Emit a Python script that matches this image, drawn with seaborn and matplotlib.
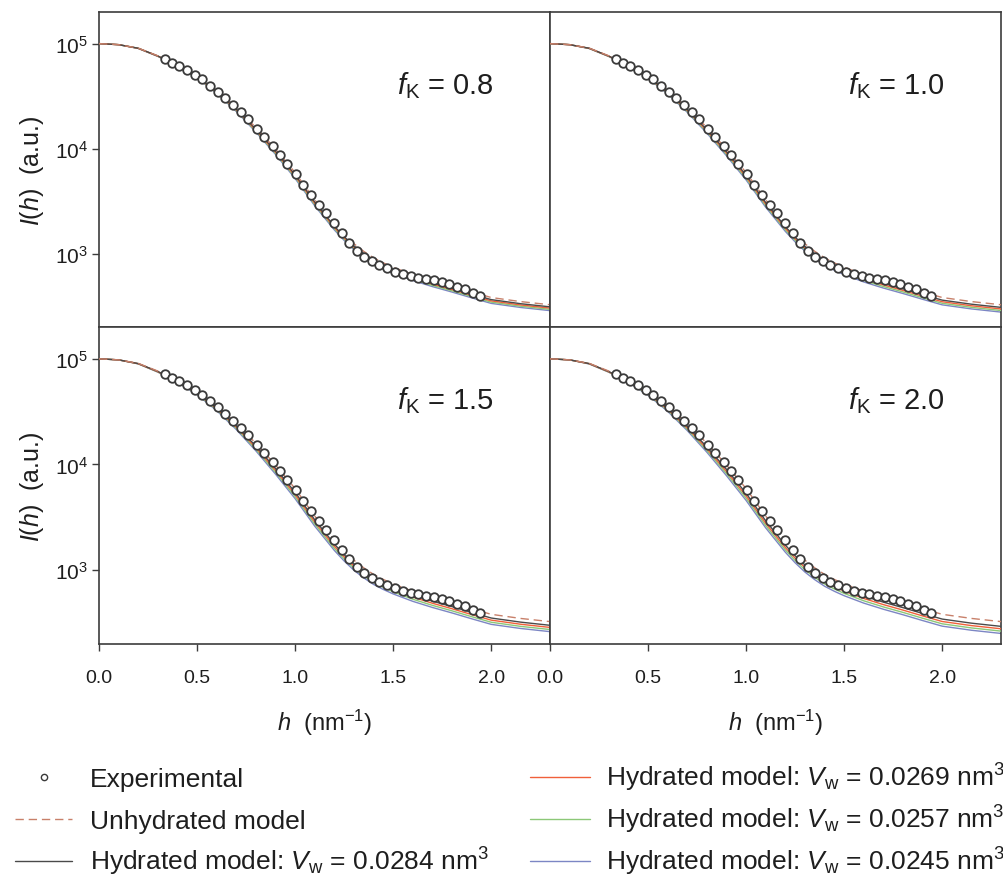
import matplotlib
matplotlib.use("Agg")
import matplotlib.pyplot as plt
from matplotlib.lines import Line2D
from matplotlib.ticker import NullLocator, FixedLocator
import seaborn as sns
import numpy as np
import pandas as pd

# experimental points (same in every panel), log10 of intensity
H_EXP = [0.335, 0.372, 0.408, 0.449, 0.488, 0.527, 0.568, 0.607, 0.644, 0.684,
         0.723, 0.762, 0.804, 0.842, 0.886, 0.923, 0.961, 1.005, 1.042, 1.080,
         1.122, 1.158, 1.196, 1.238, 1.277, 1.318, 1.352, 1.391, 1.429, 1.471,
         1.510, 1.549, 1.590, 1.629, 1.668, 1.709, 1.748, 1.787, 1.825, 1.864,
         1.905, 1.944]
LOG_EXP = [4.858, 4.820, 4.788, 4.750, 4.702, 4.659, 4.598, 4.541, 4.479, 4.415,
           4.346, 4.282, 4.188, 4.109, 4.024, 3.935, 3.849, 3.761, 3.650, 3.555,
           3.461, 3.382, 3.287, 3.192, 3.104, 3.028, 2.972, 2.925, 2.890, 2.860,
           2.829, 2.804, 2.782, 2.772, 2.756, 2.747, 2.728, 2.709, 2.683, 2.661,
           2.624, 2.592]

# model curves, log10 of intensity
H_MODEL = [0.0, 0.1, 0.2, 0.3, 0.4, 0.5, 0.6, 0.7, 0.8, 0.9, 1.0, 1.1, 1.2,
           1.25, 1.3, 1.35, 1.4, 1.45, 1.5, 1.6, 1.7, 1.8, 1.9, 2.0, 2.15, 2.3]
LOG_UNHYD = [5.000, 4.990, 4.957, 4.884, 4.797, 4.690, 4.553, 4.388, 4.200, 3.995,
             3.772, 3.512, 3.282, 3.182, 3.094, 3.022, 2.960, 2.912, 2.870, 2.800,
             2.742, 2.690, 2.635, 2.582, 2.543, 2.513]

FK_LABELS = ["0.8", "1.0", "1.5", "2.0"]
VW_LABELS = ["0.0284", "0.0269", "0.0257", "0.0245"]

LOG_HYD_08 = [
    [5.000, 4.990, 4.956, 4.882, 4.793, 4.684, 4.544, 4.376, 4.185, 3.977, 3.752, 3.492, 3.262,
     3.162, 3.074, 3.002, 2.940, 2.892, 2.850, 2.780, 2.722, 2.670, 2.615, 2.562, 2.523, 2.493],
    [5.000, 4.990, 4.955, 4.881, 4.791, 4.680, 4.539, 4.369, 4.176, 3.966, 3.740, 3.480, 3.250,
     3.150, 3.062, 2.990, 2.928, 2.880, 2.838, 2.768, 2.710, 2.658, 2.603, 2.550, 2.511, 2.481],
    [5.000, 4.990, 4.955, 4.880, 4.788, 4.677, 4.533, 4.362, 4.167, 3.955, 3.728, 3.468, 3.238,
     3.138, 3.050, 2.978, 2.916, 2.868, 2.826, 2.756, 2.698, 2.646, 2.591, 2.538, 2.499, 2.469],
    [5.000, 4.990, 4.954, 4.878, 4.786, 4.673, 4.528, 4.354, 4.158, 3.945, 3.716, 3.456, 3.226,
     3.126, 3.038, 2.966, 2.904, 2.856, 2.814, 2.744, 2.686, 2.634, 2.579, 2.526, 2.487, 2.457],
]
LOG_HYD_10 = [
    [5.000, 4.990, 4.956, 4.881, 4.792, 4.682, 4.542, 4.373, 4.181, 3.972, 3.747, 3.487, 3.257,
     3.157, 3.069, 2.997, 2.935, 2.887, 2.845, 2.775, 2.717, 2.665, 2.610, 2.557, 2.518, 2.488],
    [5.000, 4.990, 4.955, 4.880, 4.789, 4.678, 4.535, 4.364, 4.170, 3.959, 3.732, 3.472, 3.242,
     3.142, 3.054, 2.982, 2.920, 2.872, 2.830, 2.760, 2.702, 2.650, 2.595, 2.542, 2.503, 2.473],
    [5.000, 4.990, 4.954, 4.878, 4.786, 4.673, 4.528, 4.355, 4.159, 3.945, 3.717, 3.457, 3.227,
     3.127, 3.039, 2.967, 2.905, 2.857, 2.815, 2.745, 2.687, 2.635, 2.580, 2.527, 2.488, 2.458],
    [5.000, 4.990, 4.953, 4.877, 4.783, 4.669, 4.521, 4.346, 4.147, 3.932, 3.702, 3.442, 3.212,
     3.112, 3.024, 2.952, 2.890, 2.842, 2.800, 2.730, 2.672, 2.620, 2.565, 2.512, 2.473, 2.443],
]
LOG_HYD_15 = [
    [5.000, 4.990, 4.955, 4.880, 4.790, 4.679, 4.537, 4.367, 4.174, 3.963, 3.737, 3.477, 3.247,
     3.147, 3.059, 2.987, 2.925, 2.877, 2.835, 2.765, 2.707, 2.655, 2.600, 2.547, 2.508, 2.478],
    [5.000, 4.990, 4.954, 4.878, 4.786, 4.673, 4.528, 4.355, 4.159, 3.945, 3.717, 3.457, 3.227,
     3.127, 3.039, 2.967, 2.905, 2.857, 2.815, 2.745, 2.687, 2.635, 2.580, 2.527, 2.488, 2.458],
    [5.000, 4.990, 4.953, 4.876, 4.782, 4.667, 4.519, 4.343, 4.144, 3.927, 3.697, 3.437, 3.207,
     3.107, 3.019, 2.947, 2.885, 2.837, 2.795, 2.725, 2.667, 2.615, 2.560, 2.507, 2.468, 2.438],
    [5.000, 4.990, 4.952, 4.874, 4.778, 4.661, 4.510, 4.331, 4.129, 3.909, 3.677, 3.417, 3.187,
     3.087, 2.999, 2.927, 2.865, 2.817, 2.775, 2.705, 2.647, 2.595, 2.540, 2.487, 2.448, 2.418],
]
LOG_HYD_20 = [
    [5.000, 4.990, 4.955, 4.879, 4.788, 4.676, 4.533, 4.361, 4.166, 3.954, 3.727, 3.467, 3.237,
     3.137, 3.049, 2.977, 2.915, 2.867, 2.825, 2.755, 2.697, 2.645, 2.590, 2.537, 2.498, 2.468],
    [5.000, 4.990, 4.954, 4.877, 4.783, 4.670, 4.522, 4.347, 4.149, 3.934, 3.704, 3.444, 3.214,
     3.114, 3.026, 2.954, 2.892, 2.844, 2.802, 2.732, 2.674, 2.622, 2.567, 2.514, 2.475, 2.445],
    [5.000, 4.990, 4.953, 4.875, 4.779, 4.663, 4.513, 4.334, 4.133, 3.914, 3.682, 3.422, 3.192,
     3.092, 3.004, 2.932, 2.870, 2.822, 2.780, 2.710, 2.652, 2.600, 2.545, 2.492, 2.453, 2.423],
    [5.000, 4.990, 4.951, 4.873, 4.775, 4.656, 4.503, 4.321, 4.116, 3.894, 3.660, 3.400, 3.170,
     3.070, 2.982, 2.910, 2.848, 2.800, 2.758, 2.688, 2.630, 2.578, 2.523, 2.470, 2.431, 2.401],
]
LOG_HYD = [LOG_HYD_08, LOG_HYD_10, LOG_HYD_15, LOG_HYD_20]

C_UNHYD = "#c8806a"
C_HYD = ["#4a4a4a", "#f0603a", "#8cc878", "#7c86c4"]
C_SPINE = "#3c3c3c"
C_TEXT = "#1e1e1e"

sns.set_style("ticks")
plt.rcParams["font.family"] = ["Liberation Sans", "DejaVu Sans"]
plt.rcParams["mathtext.fontset"] = "custom"
plt.rcParams["mathtext.rm"] = "Liberation Sans"
plt.rcParams["mathtext.it"] = "Liberation Sans:italic"
plt.rcParams["mathtext.bf"] = "Liberation Sans:bold"

fig = plt.figure(figsize=(10.04, 8.78), dpi=100)

W = 451 / 1004
lefts = [99 / 1004, 550 / 1004]
rows = [(1 - 328 / 878, 315 / 878), (1 - 645 / 878, 317 / 878)]

exp_df = pd.DataFrame({"h": H_EXP, "I": 10 ** np.array(LOG_EXP)})

for k in range(4):
    r, c = divmod(k, 2)
    ax = fig.add_axes([lefts[c], rows[r][0], W, rows[r][1]])
    ax.set_yscale("log")

    # hydrated curves, blue drawn first so the grey ends on top
    for j in [3, 2, 1, 0]:
        sns.lineplot(x=H_MODEL, y=10 ** np.array(LOG_HYD[k][j]), ax=ax,
                     color=C_HYD[j], lw=1.0, zorder=2 + (3 - j))
    sns.lineplot(x=H_MODEL, y=10 ** np.array(LOG_UNHYD), ax=ax,
                 color=C_UNHYD, lw=1.0, dashes=(6, 3.5), zorder=6)
    sns.scatterplot(data=exp_df, x="h", y="I", ax=ax, s=38, color="white",
                    edgecolor="#3a3a3a", linewidth=1.3, zorder=8)

    ax.set_xlim(0, 2.3)
    ax.set_ylim(200, 2e5)
    ax.yaxis.set_major_locator(FixedLocator([1e3, 1e4, 1e5]))
    ax.yaxis.set_minor_locator(NullLocator())
    ax.set_xticks([0.0, 0.5, 1.0, 1.5, 2.0])
    ax.set_xlabel("")
    ax.set_ylabel("")
    for sp in ax.spines.values():
        sp.set_color(C_SPINE)
        sp.set_linewidth(1.2)
    ax.tick_params(direction="out", length=5, width=1.0, color=C_SPINE,
                   labelcolor=C_TEXT)
    ax.tick_params(axis="x", pad=13, labelsize=14)
    ax.tick_params(axis="y", pad=3, labelsize=15)

    if r == 0:
        ax.tick_params(axis="x", bottom=False, labelbottom=False)
    else:
        ax.set_xticklabels(["0.0", "0.5", "1.0", "1.5", "2.0"])
        ax.set_xlabel(r"$h$  (nm$^{-1}$)", fontsize=17, labelpad=15, color=C_TEXT)
    if c == 1:
        ax.tick_params(axis="y", left=False, labelleft=False)
    else:
        ax.set_ylabel(r"$I$($h$)  (a.u.)", fontsize=18, labelpad=6, color=C_TEXT)

    ax.text(0.66, 0.77, r"$f_\mathrm{K}$ = " + FK_LABELS[k], transform=ax.transAxes,
            fontsize=21, va="center", ha="left", color=C_TEXT)

# legend, drawn entry by entry so both columns share the same rows
lab_hyd = [r"Hydrated model: $V_\mathrm{w}$ = " + v + r" nm$^3$" for v in VW_LABELS]
entries = [
    (0, 0, "exp", None, "Experimental"),
    (0, 1, "dash", C_UNHYD, "Unhydrated model"),
    (0, 2, "line", C_HYD[0], lab_hyd[0]),
    (1, 0, "line", C_HYD[1], lab_hyd[1]),
    (1, 1, "line", C_HYD[2], lab_hyd[2]),
    (1, 2, "line", C_HYD[3], lab_hyd[3]),
]
col_x = [(15, 72, 90), (530, 590, 606)]
row_y = [778, 820, 862]
for col, row, kind, colr, text in entries:
    x0, x1, xt = col_x[col]
    yc = 1 - row_y[row] / 878
    if kind == "exp":
        fig.add_artist(Line2D([(x0 + x1) / 2 / 1004], [yc], ls="none", marker="o",
                              ms=4.5, mfc="white", mec="#3a3a3a", mew=1.0))
    else:
        fig.add_artist(Line2D([x0 / 1004, x1 / 1004], [yc, yc], color=colr, lw=1.0,
                              dashes=(6, 3.5) if kind == "dash" else (None, None)))
    fig.text(xt / 1004, yc - 9 / 878, text, fontsize=19, va="baseline", ha="left",
             color=C_TEXT)

fig.savefig("out.png", dpi=100)
